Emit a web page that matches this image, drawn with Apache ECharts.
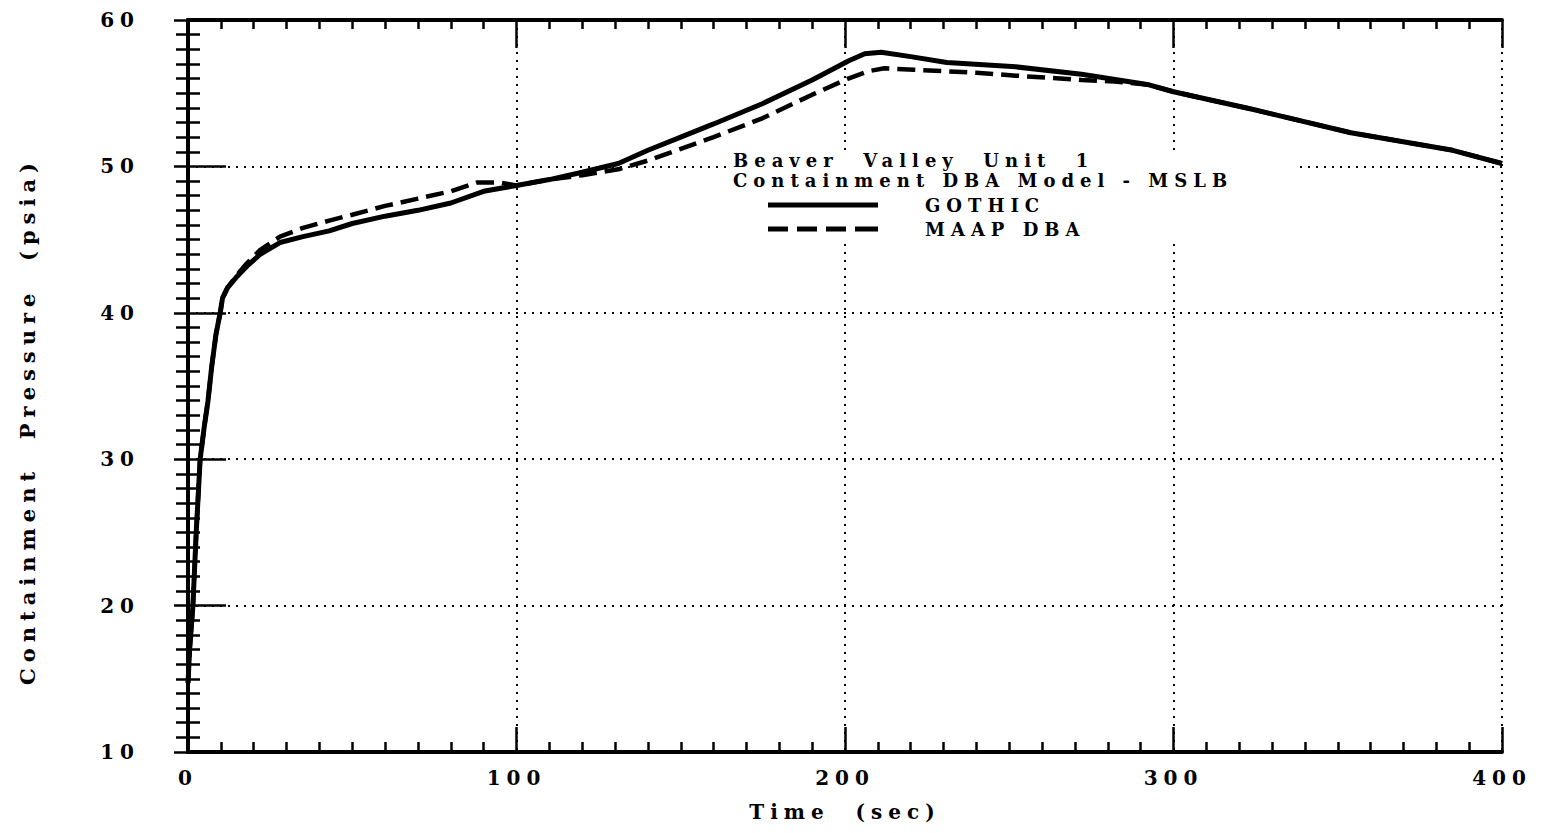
<!DOCTYPE html>
<html>
<head>
<meta charset="utf-8">
<script src="https://cdn.jsdelivr.net/npm/echarts@6/dist/echarts.min.js"></script>
<style>
html, body { margin: 0; padding: 0; background: #fff; }
#main { width: 1543px; height: 833px; }
#main text { letter-spacing: 6px; }
</style>
</head>
<body>
<div id="main"></div>
<script>
// time (sec) / pressure (psia)
var gothicTime = [0, 0.5, 1.5, 2.5, 3.7, 5, 6.1, 7.2, 8.5, 9.8, 10.5, 12, 15, 18, 22, 28, 35, 43, 50, 60, 70, 80, 90, 100, 110, 120, 131, 140, 150, 160, 175, 190, 201, 206, 211, 220, 231, 252, 272, 292, 300, 324, 354, 385, 400];
var gothicPressure = [14.7, 17, 20, 25, 30, 32.3, 34, 36.3, 38.5, 40, 41, 41.7, 42.5, 43.2, 44, 44.8, 45.2, 45.6, 46.1, 46.6, 47.0, 47.5, 48.3, 48.7, 49.1, 49.6, 50.2, 51.1, 52.0, 52.9, 54.3, 55.9, 57.2, 57.7, 57.8, 57.5, 57.1, 56.8, 56.3, 55.6, 55.1, 53.9, 52.3, 51.1, 50.2];

var maapTime = [0, 0.5, 1.5, 2.5, 3.7, 5, 6.1, 7.2, 8.5, 9.8, 10.5, 12, 15, 18, 22, 28, 35, 43, 50, 60, 70, 80, 88, 95, 100, 110, 120, 131, 140, 150, 160, 175, 190, 201, 207, 212, 221, 240, 252, 272, 282, 292, 300, 324, 354, 385, 400];
var maapPressure = [14.7, 17, 20, 25, 30, 32.3, 34, 36.3, 38.5, 40, 41, 41.7, 42.6, 43.4, 44.3, 45.2, 45.8, 46.3, 46.7, 47.3, 47.8, 48.3, 48.9, 48.9, 48.7, 49.1, 49.4, 49.8, 50.4, 51.2, 52.0, 53.3, 54.9, 56.0, 56.5, 56.7, 56.6, 56.4, 56.2, 55.9, 55.8, 55.6, 55.1, 53.9, 52.3, 51.1, 50.2];

var xTicks = [0, 100, 200, 300, 400];
var yTicks = [10, 20, 30, 40, 50, 60];

function pairs(t, p) {
    var out = [];
    for (var i = 0; i < t.length; i++) out.push([t[i], p[i]]);
    return out;
}

var font = 'DejaVu Serif';
var myChart = echarts.init(document.getElementById('main'), null, { renderer: 'svg' });

var option = {
    backgroundColor: '#fff',
    animation: false,
    grid: { left: 188, right: 41, top: 20, bottom: 81 },
    title: {
        text: 'Beaver  Valley  Unit  1\nContainment DBA Model - MSLB',
        left: 733, top: 150, padding: 0,
        textStyle: { fontFamily: font, fontSize: 18, fontWeight: 'bold', color: '#000', lineHeight: 20 }
    },
    legend: {
        orient: 'vertical',
        left: 768, top: 195, padding: 0,
        itemWidth: 110, itemHeight: 5, itemGap: 4,
        selectedMode: false,
        data: [
            { name: 'GOTHIC', icon: 'path://M0,0h110v5h-110z' },
            { name: 'MAAP DBA', icon: 'path://M0,0h20v5h-20zM29,0h20v5h-20zM58,0h20v5h-20zM87,0h23v5h-23z' }
        ],
        itemStyle: { color: '#000' },
        textStyle: { fontFamily: font, fontSize: 18, fontWeight: 'bold', color: '#000', padding: [0, 0, 0, 42], lineHeight: 20 }
    },
    graphic: [{
        type: 'rect', z: 3,
        left: 728, top: 150,
        shape: { width: 572, height: 92 },
        style: { fill: '#fff' }
    }],
    xAxis: [{
        type: 'value', position: 'bottom',
        min: xTicks[0], max: xTicks[xTicks.length - 1], interval: 100,
        name: 'Time  (sec)', nameLocation: 'middle', nameGap: 50,
        nameTextStyle: { fontFamily: font, fontSize: 20, fontWeight: 'bold', color: '#000' },
        axisLine: { lineStyle: { color: '#000', width: 4 } },
        axisTick: { inside: true, length: 25, lineStyle: { color: '#000', width: 2.5 } },
        minorTick: { show: true, splitNumber: 10, length: 10, lineStyle: { color: '#000', width: 2.5 } },
        axisLabel: { margin: 16, fontFamily: font, fontSize: 20, fontWeight: 'bold', color: '#000' },
        splitLine: { show: true, lineStyle: { color: '#000', width: 2, type: [2, 6] } }
    }, {
        type: 'value', position: 'top',
        min: xTicks[0], max: xTicks[xTicks.length - 1], interval: 100,
        axisLine: { lineStyle: { color: '#000', width: 4 } },
        axisTick: { inside: true, length: 28, lineStyle: { color: '#000', width: 2.5 } },
        minorTick: { show: true, splitNumber: 10, length: 9, lineStyle: { color: '#000', width: 2.5 } },
        axisLabel: { show: false },
        splitLine: { show: false }
    }],
    yAxis: [{
        type: 'value', position: 'left',
        min: yTicks[0], max: yTicks[yTicks.length - 1], interval: 10,
        name: 'Containment  Pressure  (psia)', nameLocation: 'middle', nameGap: 150, nameRotate: 90,
        nameTextStyle: { fontFamily: font, fontSize: 21, fontWeight: 'bold', color: '#000', padding: [0, 70, 0, 0] },
        axisLine: { lineStyle: { color: '#000', width: 4 } },
        axisTick: { inside: true, length: 38, lineStyle: { color: '#000', width: 2.5 } },
        minorTick: { show: true, splitNumber: 10, length: 12, lineStyle: { color: '#000', width: 2.5 } },
        axisLabel: { margin: 48, fontFamily: font, fontSize: 20, fontWeight: 'bold', color: '#000' },
        splitLine: { show: true, lineStyle: { color: '#000', width: 2, type: [2, 6] } }
    }, {
        type: 'value', position: 'right',
        min: yTicks[0], max: yTicks[yTicks.length - 1], interval: 10,
        axisLine: { lineStyle: { color: '#000', width: 4 } },
        axisTick: { inside: true, length: 14, lineStyle: { color: '#000', width: 2.5 } },
        minorTick: { show: true, splitNumber: 10, length: 12, lineStyle: { color: '#000', width: 2.5 } },
        axisLabel: { show: false },
        splitLine: { show: false }
    }],
    series: [{
        name: 'GOTHIC', type: 'line', symbol: 'none',
        xAxisIndex: 0, yAxisIndex: 0,
        lineStyle: { color: '#000', width: 5 },
        itemStyle: { color: '#000' },
        data: pairs(gothicTime, gothicPressure)
    }, {
        name: 'MAAP DBA', type: 'line', symbol: 'none',
        xAxisIndex: 0, yAxisIndex: 0,
        lineStyle: { color: '#000', width: 4.5, type: [18, 8] },
        itemStyle: { color: '#000' },
        data: pairs(maapTime, maapPressure)
    }]
};
myChart.setOption(option);
window.addEventListener('resize', function () { myChart.resize(); });
</script>
</body>
</html>
